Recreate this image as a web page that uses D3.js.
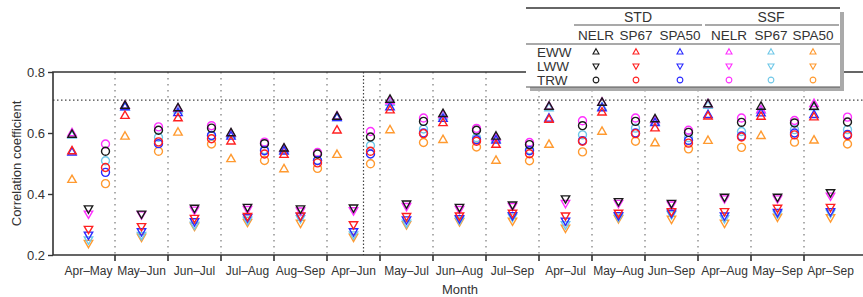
<!DOCTYPE html>
<html>
<head>
<meta charset="utf-8">
<script src="https://cdn.jsdelivr.net/npm/d3@7"></script>
<style>
  body { margin: 0; background: #fff; }
  svg { display: block; font-family: "Liberation Sans", Arial, sans-serif; }
</style>
</head>
<body>
<div id="chart"></div>
<script>
// categories (month windows)
var categories = ["Apr–May", "May–Jun", "Jun–Jul", "Jul–Aug", "Aug–Sep", "Apr–Jun", "May–Jul",
  "Jun–Aug", "Jul–Sep", "Apr–Jul", "May–Aug", "Jun–Sep", "Apr–Aug", "May–Sep", "Apr–Sep"];
var variables = ["EWW", "LWW", "TRW"];
var groups = ["STD", "SSF"];
var methods = ["NELR", "SP67", "SPA50"];
var yTicks = [0.2, 0.4, 0.6, 0.8];
var significance = 0.708;

// EWW
var ewwStdNelr  = [0.595, 0.690, 0.682, 0.600, 0.550, 0.654, 0.710, 0.663, 0.589, 0.687, 0.700, 0.646, 0.695, 0.687, 0.687];
var ewwStdSp67  = [0.541, 0.657, 0.649, 0.573, 0.529, 0.609, 0.675, 0.633, 0.562, 0.644, 0.668, 0.616, 0.655, 0.654, 0.652];
var ewwStdSpa50 = [0.537, 0.685, 0.666, 0.589, 0.540, 0.650, 0.685, 0.647, 0.576, 0.648, 0.682, 0.633, 0.660, 0.665, 0.660];
var ewwSsfNelr  = [0.600, 0.690, 0.680, 0.598, 0.548, 0.655, 0.705, 0.660, 0.585, 0.687, 0.700, 0.642, 0.695, 0.675, 0.696];
var ewwSsfSp67  = [0.592, 0.685, 0.675, 0.595, 0.545, 0.650, 0.700, 0.655, 0.580, 0.682, 0.685, 0.636, 0.690, 0.675, 0.685];
var ewwSsfSpa50 = [0.447, 0.589, 0.602, 0.515, 0.482, 0.529, 0.610, 0.578, 0.510, 0.562, 0.605, 0.567, 0.575, 0.591, 0.576];
// LWW
var lwwStdNelr  = [0.352, 0.335, 0.354, 0.357, 0.352, 0.355, 0.368, 0.357, 0.365, 0.385, 0.376, 0.370, 0.390, 0.390, 0.405];
var lwwStdSp67  = [0.285, 0.294, 0.321, 0.327, 0.329, 0.300, 0.327, 0.329, 0.338, 0.329, 0.338, 0.343, 0.343, 0.354, 0.357];
var lwwStdSpa50 = [0.266, 0.277, 0.310, 0.323, 0.327, 0.277, 0.316, 0.320, 0.330, 0.312, 0.330, 0.338, 0.329, 0.340, 0.343];
var lwwSsfNelr  = [0.335, 0.333, 0.348, 0.350, 0.345, 0.346, 0.360, 0.350, 0.360, 0.370, 0.370, 0.365, 0.385, 0.385, 0.394];
var lwwSsfSp67  = [0.250, 0.265, 0.299, 0.315, 0.320, 0.267, 0.305, 0.315, 0.325, 0.300, 0.325, 0.333, 0.320, 0.335, 0.338];
var lwwSsfSpa50 = [0.239, 0.259, 0.295, 0.308, 0.305, 0.259, 0.300, 0.310, 0.312, 0.289, 0.320, 0.318, 0.305, 0.325, 0.323];
// TRW
var trwStdNelr  = [0.540, 0.609, 0.616, 0.565, 0.531, 0.587, 0.638, 0.609, 0.562, 0.624, 0.638, 0.602, 0.635, 0.633, 0.636];
var trwStdSp67  = [0.487, 0.571, 0.581, 0.531, 0.502, 0.540, 0.598, 0.573, 0.532, 0.573, 0.598, 0.567, 0.587, 0.594, 0.592];
var trwStdSpa50 = [0.471, 0.565, 0.592, 0.542, 0.510, 0.531, 0.600, 0.578, 0.542, 0.575, 0.600, 0.576, 0.590, 0.600, 0.595];
var trwSsfNelr  = [0.564, 0.620, 0.624, 0.570, 0.536, 0.605, 0.649, 0.615, 0.569, 0.640, 0.649, 0.609, 0.649, 0.641, 0.652];
var trwSsfSp67  = [0.509, 0.586, 0.590, 0.545, 0.510, 0.559, 0.613, 0.585, 0.545, 0.594, 0.616, 0.585, 0.605, 0.611, 0.611];
var trwSsfSpa50 = [0.434, 0.540, 0.564, 0.510, 0.484, 0.499, 0.569, 0.554, 0.509, 0.538, 0.573, 0.548, 0.553, 0.570, 0.564];

var colors = {
  "STD NELR": "#1a1a1a", "STD SP67": "#ff2020", "STD SPA50": "#2a2aff",
  "SSF NELR": "#ff30ff", "SSF SP67": "#70c8e8", "SSF SPA50": "#ff9a30"
};

// one entry per series, drawn in this order (last on top)
var series = [
  { v: "EWW", k: "SSF SPA50", d: ewwSsfSpa50 }, { v: "EWW", k: "SSF SP67", d: ewwSsfSp67 },
  { v: "EWW", k: "SSF NELR", d: ewwSsfNelr }, { v: "EWW", k: "STD SPA50", d: ewwStdSpa50 },
  { v: "EWW", k: "STD SP67", d: ewwStdSp67 }, { v: "EWW", k: "STD NELR", d: ewwStdNelr },
  { v: "LWW", k: "SSF SPA50", d: lwwSsfSpa50 }, { v: "LWW", k: "SSF SP67", d: lwwSsfSp67 },
  { v: "LWW", k: "SSF NELR", d: lwwSsfNelr }, { v: "LWW", k: "STD SPA50", d: lwwStdSpa50 },
  { v: "LWW", k: "STD SP67", d: lwwStdSp67 }, { v: "LWW", k: "STD NELR", d: lwwStdNelr },
  { v: "TRW", k: "SSF SPA50", d: trwSsfSpa50 }, { v: "TRW", k: "SSF SP67", d: trwSsfSp67 },
  { v: "TRW", k: "SSF NELR", d: trwSsfNelr }, { v: "TRW", k: "STD SPA50", d: trwStdSpa50 },
  { v: "TRW", k: "STD SP67", d: trwStdSp67 }, { v: "TRW", k: "STD NELR", d: trwStdNelr }
];

var width = 863, height = 297;
var pLeft = 53, pRight = 866, pTop = 72, pBottom = 255;

var svg = d3.select("#chart").append("svg")
  .attr("width", width).attr("height", height);

var x = d3.scaleBand().domain(categories).range([62, 857]).padding(0);
var y = d3.scaleLinear().domain([0.2, 0.8]).range([pBottom, pTop]);
var offset = { EWW: -16.5, LWW: 0, TRW: 17 };

function marker(sel, type, s) {
  if (type === "TRW") {
    sel.append("circle").attr("r", s * 0.95);
  } else if (type === "EWW") {
    sel.append("path").attr("d", "M0," + (-s * 1.1) + "L" + s + "," + (s * 0.65) + "L" + (-s) + "," + (s * 0.65) + "Z");
  } else {
    sel.append("path").attr("d", "M0," + (s * 1.1) + "L" + s + "," + (-s * 0.65) + "L" + (-s) + "," + (-s * 0.65) + "Z");
  }
}

// category separators (gray dotted)
svg.append("g").selectAll("line")
  .data(categories.slice(1))
  .join("line")
  .attr("x1", function (d) { return x(d); }).attr("x2", function (d) { return x(d); })
  .attr("y1", pTop).attr("y2", pBottom)
  .attr("stroke", "#9a9a9a").attr("stroke-width", 1.6)
  .attr("stroke-dasharray", "1.6,4.4");

// dark dotted vertical reference
svg.append("line")
  .attr("x1", x("May–Jul") + offset.EWW).attr("x2", x("May–Jul") + offset.EWW)
  .attr("y1", pTop).attr("y2", pBottom)
  .attr("stroke", "#444").attr("stroke-width", 1.2).attr("stroke-dasharray", "1.5,2");

// significance level
svg.append("line")
  .attr("x1", pLeft).attr("x2", pRight)
  .attr("y1", y(significance)).attr("y2", y(significance))
  .attr("stroke", "#444").attr("stroke-width", 1.2).attr("stroke-dasharray", "1.5,2.5");

// points
var pts = svg.append("g");
series.forEach(function (s) {
  var g = pts.append("g")
    .attr("fill", "none").attr("stroke", colors[s.k]).attr("stroke-width", 1.4);
  s.d.forEach(function (val, i) {
    var c = g.append("g")
      .attr("transform", "translate(" + (x(categories[i]) + x.bandwidth() / 2 + offset[s.v]) + "," + y(val) + ")");
    marker(c, s.v, 4.2);
  });
});

// frame
svg.append("path")
  .attr("d", "M" + pRight + "," + pTop + "H" + pLeft + "V" + pBottom + "H" + pRight)
  .attr("fill", "none").attr("stroke", "#333").attr("stroke-width", 1.6);

// y axis
var yAxis = svg.append("g").attr("transform", "translate(" + pLeft + ",0)")
  .call(d3.axisLeft(y).tickValues(yTicks).tickFormat(d3.format(".1f")).tickSize(5).tickPadding(3));
yAxis.select(".domain").remove();
yAxis.selectAll("line").attr("stroke", "#333").attr("stroke-width", 1.4);
yAxis.selectAll("text").attr("font-size", 13).attr("fill", "#333").style("font-family", "Liberation Sans, Arial, sans-serif");

// x axis: ticks at category boundaries, labels at centers
var xt = svg.append("g");
xt.selectAll("line")
  .data(categories.slice(1))
  .join("line")
  .attr("x1", function (d) { return x(d); }).attr("x2", function (d) { return x(d); })
  .attr("y1", pBottom).attr("y2", pBottom + 6)
  .attr("stroke", "#333").attr("stroke-width", 1.6);
xt.selectAll("text")
  .data(categories)
  .join("text")
  .attr("x", function (d) { return x(d) + x.bandwidth() / 2; })
  .attr("y", 275)
  .attr("text-anchor", "middle").attr("font-size", 12).attr("fill", "#333")
  .text(function (d) { return d; });

svg.append("text").attr("x", 460).attr("y", 294).attr("text-anchor", "middle")
  .attr("font-size", 13).attr("fill", "#333").text("Month");
svg.append("text")
  .attr("transform", "translate(21," + ((pTop + pBottom) / 2) + ") rotate(-90)")
  .attr("text-anchor", "middle").attr("font-size", 13).attr("fill", "#333")
  .text("Correlation coefficient");

// legend table
var lg = svg.append("g");
var lx0 = 526, lx1 = 840, ly0 = 8, ly1 = 87;
lg.append("rect").attr("x", lx0 + 4).attr("y", ly0 + 4).attr("width", lx1 - lx0).attr("height", ly1 - ly0)
  .attr("fill", "#aaa");
lg.append("rect").attr("x", lx0).attr("y", ly0).attr("width", lx1 - lx0).attr("height", ly1 - ly0)
  .attr("fill", "#fff");
lg.append("line").attr("x1", lx0).attr("x2", lx1).attr("y1", ly0).attr("y2", ly0)
  .attr("stroke", "#333").attr("stroke-width", 1.4);
lg.append("line").attr("x1", lx0).attr("x2", lx1).attr("y1", 44).attr("y2", 44)
  .attr("stroke", "#555").attr("stroke-width", 1.2);
lg.append("line").attr("x1", lx0).attr("x2", lx1).attr("y1", ly1).attr("y2", ly1)
  .attr("stroke", "#555").attr("stroke-width", 1.2);

var colX = [596, 636, 680, 729, 771, 813];
var groupSpan = [[574, 702], [705, 839]];
groups.forEach(function (gname, gi) {
  lg.append("text").attr("x", (colX[gi * 3] + colX[gi * 3 + 2]) / 2).attr("y", 22)
    .attr("text-anchor", "middle").attr("font-size", 14).attr("fill", "#333").text(gname);
  lg.append("line").attr("x1", groupSpan[gi][0]).attr("x2", groupSpan[gi][1]).attr("y1", 25).attr("y2", 25)
    .attr("stroke", "#555").attr("stroke-width", 1.2);
  methods.forEach(function (m, mi) {
    lg.append("text").attr("x", colX[gi * 3 + mi]).attr("y", 40)
      .attr("text-anchor", "middle").attr("font-size", 13.5).attr("fill", "#333").text(m);
  });
});
var rowY = [52, 66, 80];
variables.forEach(function (v, vi) {
  lg.append("text").attr("x", 537).attr("y", rowY[vi] + 5)
    .attr("font-size", 13.5).attr("fill", "#333").text(v);
  groups.forEach(function (gname, gi) {
    methods.forEach(function (m, mi) {
      var c = lg.append("g")
        .attr("transform", "translate(" + colX[gi * 3 + mi] + "," + rowY[vi] + ")")
        .attr("fill", "none").attr("stroke", colors[gname + " " + m]).attr("stroke-width", 1.1);
      marker(c, v, 3);
    });
  });
});
</script>
</body>
</html>
